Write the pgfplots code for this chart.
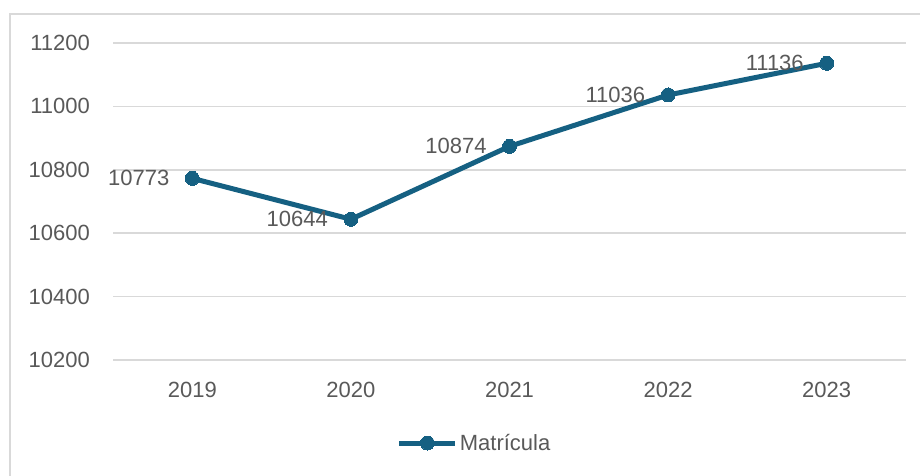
\documentclass[border=0pt]{standalone}
\usepackage{pgfplots}
\pgfplotsset{compat=1.18}
\usepackage{fontspec}
\setmainfont{Liberation Sans}
\definecolor{serie}{HTML}{156082}
\definecolor{txt}{HTML}{595959}
\definecolor{grd}{HTML}{D9D9D9}
\begin{document}
\begin{tikzpicture}[x=1pt,y=1pt]
\clip (0,0) rectangle (920,475);
\fill[white] (0,0) rectangle (920,475);
\draw[grd, line width=1.5pt] (10,-20) -- (10,461) -- (940,461);
\begin{axis}[
    at={(113pt,115pt)}, anchor=south west,
    scale only axis,
    width=793pt, height=317pt,
    xmin=-0.5, xmax=4.5,
    ymin=10200, ymax=11200,
    xtick={0,1,2,3,4},
    xticklabels={2019,2020,2021,2022,2023},
    ytick={10200,10400,10600,10800,11000,11200},
    scaled y ticks=false,
    yticklabel={\pgfmathprintnumber[fixed,precision=0,1000 sep={}]{\tick}},
    axis line style={draw=none},
    major tick length=0pt,
    ymajorgrids,
    grid style={grd, line width=1.5pt},
    /pgf/number format/assume math mode=true,
    /pgf/number format/1000 sep={},
    tick label style={font=\fontsize{22}{26}\selectfont, text=txt},
    yticklabel style={anchor=east, inner sep=0pt, xshift=-23pt},
    xticklabel style={anchor=north, inner sep=0pt, yshift=-22pt},
    legend style={at={(0.456,0)}, anchor=center, yshift=-83pt, draw=none,
        font=\fontsize{22}{26}\selectfont, text=txt, inner sep=0pt},
    legend image code/.code={\draw[mark repeat=2,mark phase=2,#1] plot coordinates {(0pt,0pt)(28pt,0pt)(56pt,0pt)};},
    legend cell align=left,
    nodes near coords,
    nodes near coords style={anchor=east, inner sep=0pt, xshift=-23pt, font=\fontsize{22}{26}\selectfont, text=txt},
    point meta=explicit symbolic,
    clip=false,
]
\addplot[serie, line width=5pt, mark=*, mark size=7pt, mark options={fill=serie, draw=serie, line width=0pt}]
coordinates {
    (0,10773) [10773]
    (1,10644) [10644]
    (2,10874) [10874]
    (3,11036) [11036]
    (4,11136) [11136]
};
\addlegendentry{Matrícula}
\end{axis}
\end{tikzpicture}
\end{document}
